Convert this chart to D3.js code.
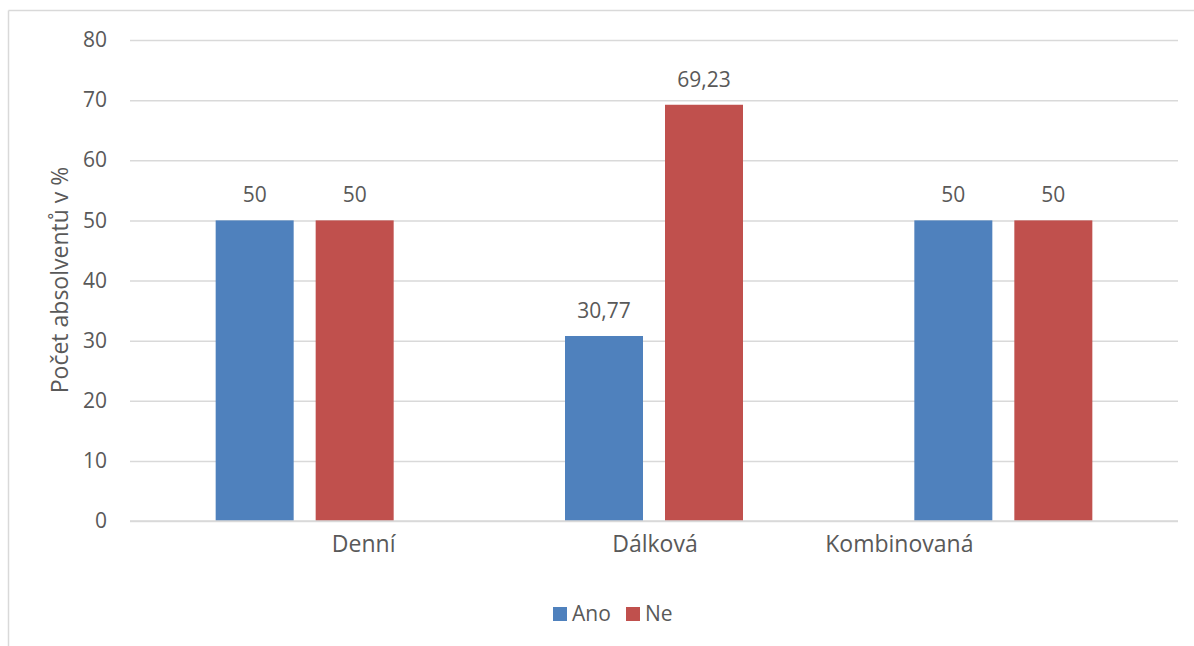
<!DOCTYPE html>
<html><head><meta charset="utf-8">
<script src="https://cdn.jsdelivr.net/npm/d3@7"></script>
<style>
body{margin:0;background:#fff;}
svg text{font-family:"Open Sans",sans-serif;fill:#595959;}
</style></head>
<body><svg id="c" width="1194" height="646"></svg>
<script>
const categories = ["Denní", "Dálková", "Kombinovaná"];
const seriesNames = ["Ano", "Ne"];
const ano = [50, 30.77, 50];
const ne = [50, 69.23, 50];
const yTicks = [0, 10, 20, 30, 40, 50, 60, 70, 80];
const colors = ["#4F81BD", "#C0504D"];

const svg = d3.select("#c");
const FS = "21px", FSL = "23px";
const m = {left:130, right:1178, top:40, bottom:521};

// chart frame
svg.append("line").attr("x1",8.5).attr("x2",1194).attr("y1",10.5).attr("y2",10.5).attr("stroke","#D9D9D9").attr("stroke-width",1.5);
svg.append("line").attr("x1",8.5).attr("x2",8.5).attr("y1",10.5).attr("y2",646).attr("stroke","#D9D9D9").attr("stroke-width",1.5);

const y = d3.scaleLinear().domain([0,80]).range([m.bottom, m.top]);
const x0 = d3.scaleBand().domain(categories).range([m.left, m.right]).paddingInner(0).paddingOuter(0);
const groupW = 178;
const x1 = d3.scaleBand().domain(seriesNames).range([0, groupW]).paddingInner(22/100).paddingOuter(0);

// gridlines
const yAxis = d3.axisLeft(y).tickValues(yTicks).tickSize(-(m.right-m.left)).tickPadding(23).tickFormat(d3.format("d"));
const ga = svg.append("g").attr("transform",`translate(${m.left},0)`).call(yAxis);
ga.select(".domain").remove();
ga.selectAll(".tick line").attr("stroke","#D9D9D9").attr("stroke-width",1.5);
ga.selectAll(".tick text").style("font-size",FS).style("font-family","'Open Sans',sans-serif").attr("fill","#595959");

// bars
const data = categories.map((c,i)=>({cat:c, vals:[{s:"Ano",v:ano[i]},{s:"Ne",v:ne[i]}]}));
const g = svg.append("g");
const groups = g.selectAll("g.grp").data(data).join("g")
  .attr("transform", d=>`translate(${x0(d.cat)+(x0.bandwidth()-groupW)/2},0)`);
groups.selectAll("rect").data(d=>d.vals).join("rect")
  .attr("x", d=>x1(d.s)).attr("width", x1.bandwidth())
  .attr("y", d=>y(d.v)).attr("height", d=>y(0)-y(d.v))
  .attr("fill", (d,i)=>colors[i]);
groups.selectAll("text.lbl").data(d=>d.vals).join("text").attr("class","lbl")
  .attr("x", d=>x1(d.s)+x1.bandwidth()/2).attr("y", d=>y(d.v)-18)
  .attr("text-anchor","middle").style("font-size",FS)
  .text(d=>String(d.v).replace(".",","));

// x axis baseline
svg.append("line").attr("x1",m.left).attr("x2",m.right).attr("y1",y(0)).attr("y2",y(0)).attr("stroke","#D9D9D9").attr("stroke-width",1.5);

// category labels (original labels are offset from the band centre)
const labelShift = {"Denní":59, "Dálková":1, "Kombinovaná":-104};
svg.selectAll("text.cat").data(categories).join("text").attr("class","cat")
  .attr("x", d=>x0(d)+x0.bandwidth()/2+labelShift[d]).attr("y", 552)
  .attr("text-anchor","middle").style("font-size",FSL).text(d=>d);

// y title
svg.append("text").attr("transform","translate(68,280) rotate(-90)")
  .attr("text-anchor","middle").style("font-size",FSL).text("Počet absolventů v %");

// legend
const leg = svg.append("g");
const legItems = [{n:"Ano",x:553},{n:"Ne",x:626}];
legItems.forEach((it,i)=>{
  leg.append("rect").attr("x",it.x).attr("y",607).attr("width",14).attr("height",14).attr("fill",colors[i]);
  leg.append("text").attr("x",it.x+19).attr("y",621).style("font-size",FS).text(seriesNames[i]);
});
</script></body></html>
